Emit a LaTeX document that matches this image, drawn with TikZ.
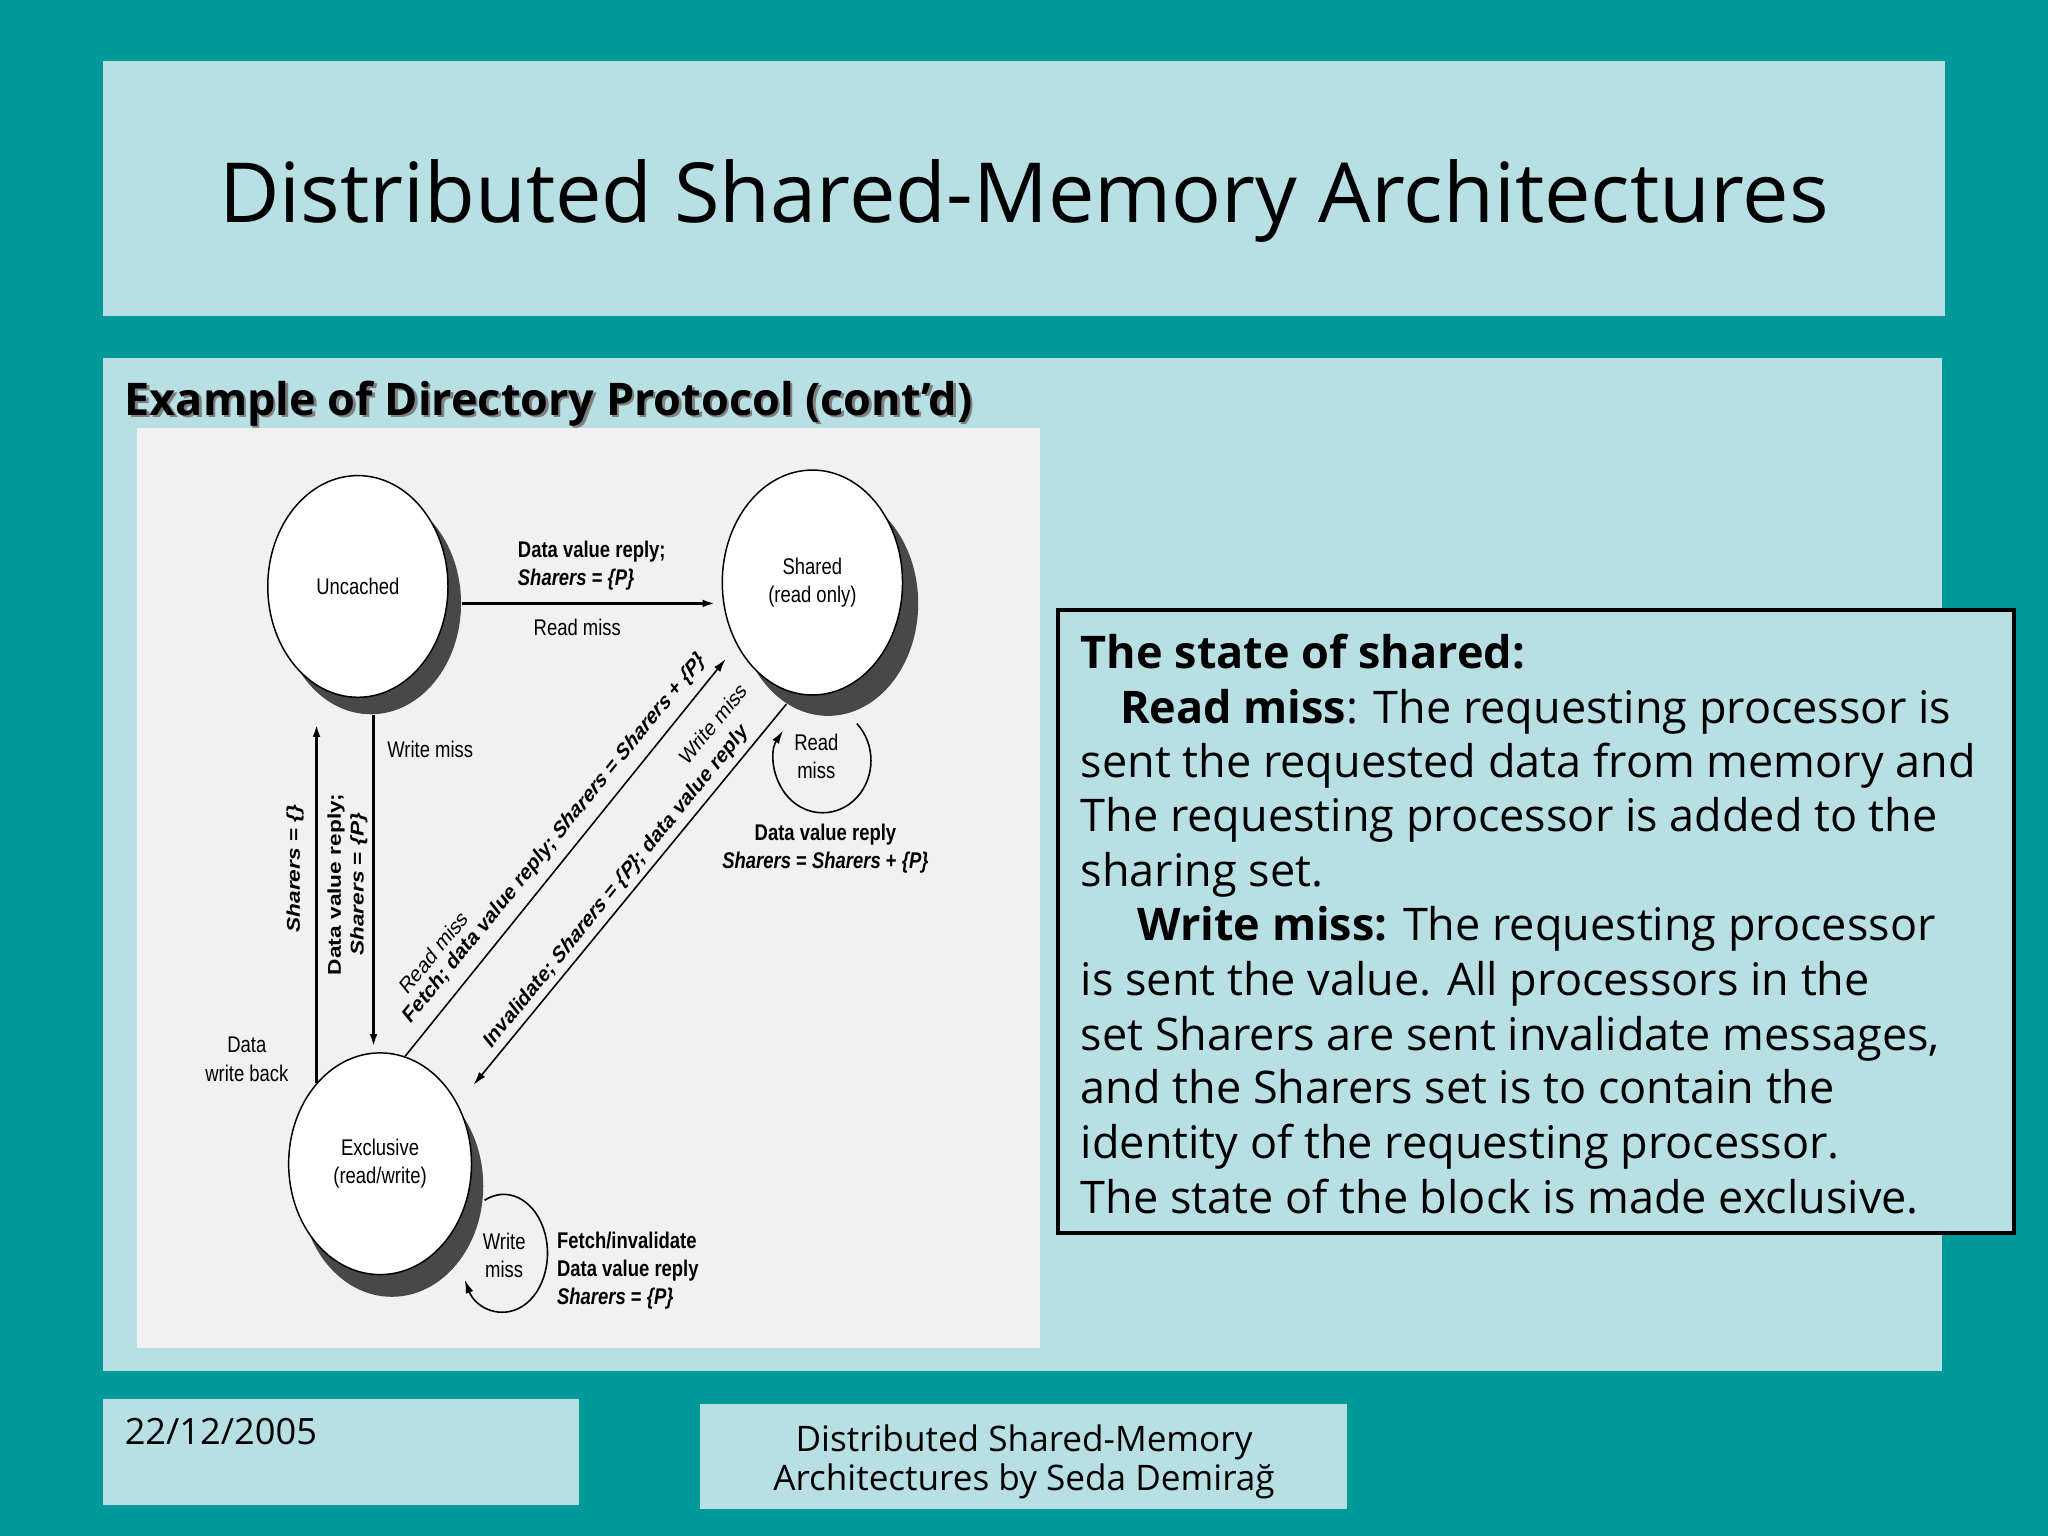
\documentclass[tikz,border=0pt]{standalone}
\usepackage{fontspec}
\setmainfont{Open Sans}
\newfontfamily\diagfam{Liberation Sans}
\usetikzlibrary{arrows.meta,shapes.geometric}
\definecolor{tealbg}{RGB}{0,153,153}
\definecolor{pale}{RGB}{184,224,228}
\definecolor{scan}{RGB}{241,241,241}
\definecolor{shade}{RGB}{72,72,72}
\newdimen\dunit
\dunit=0.01306cm
\newcommand\dfont{\diagfam\fontsize{5.25}{6.5}\selectfont}
\begin{document}
\begin{tikzpicture}[x=0.01306cm,y=-0.01306cm,
  sized/.style 2 args={minimum width=#1*\dunit, minimum height=#2*\dunit},
  statenode/.style={ellipse, draw=black, line width=0.42pt, fill=white, inner sep=0pt, font=\dfont, align=center, yscale=1.23},
  shadownode/.style={ellipse, fill=shade, inner sep=0pt, yscale=1.23},
  lab/.style={inner sep=0pt, font=\dfont, align=center, yscale=1.23},
  blab/.style={inner sep=0pt, font=\dfont\bfseries, align=center, yscale=1.23},
  thickarr/.style={line width=0.95pt, -{Latex[length=3.6pt,width=2.2pt]}},
  thinarr/.style={line width=0.45pt, -{Latex[length=3.8pt,width=2.2pt]}},
  boxtxt/.style={anchor=base west, inner sep=0pt, font=\fontsize{12.8}{14}\selectfont},
]
\useasboundingbox (0,0) rectangle (1568,1176);
\fill[tealbg] (0,0) rectangle (1568,1176);
\fill[pale] (79,47) rectangle (1489,242);
\fill[pale] (79,274) rectangle (1487,1050);
\fill[pale] (79,1071) rectangle (443,1152);
\fill[pale] (536,1075) rectangle (1031,1155);
\fill[scan] (105,328) rectangle (796,1032);

% title and subtitle
\node[anchor=base, inner sep=0pt, font=\fontsize{23.6}{28}\selectfont] (title) at (784,170) {Distributed Shared-Memory Architectures};
\node[anchor=base west, inner sep=0pt, font=\bfseries\fontsize{12.8}{15}\selectfont, text=gray] (subs) at (97,320) {Example of Directory Protocol (cont’d)};
\node[anchor=base west, inner sep=0pt, font=\bfseries\fontsize{12.8}{15}\selectfont] (sub) at (95,318) {Example of Directory Protocol (cont’d)};

% states
\node[shadownode, sized={138}{138}] (uncs) at (284,462) {};
\node[statenode, sized={138}{138}] (unc) at (274,449) {Uncached};
\node[shadownode, sized={138}{140}] (shs) at (634,462) {};
\node[statenode, sized={138}{140}] (sh) at (622,446) {Shared\\(read only)};
\node[shadownode, sized={140}{138}] (excs) at (300,908) {};
\node[statenode, sized={140}{138}] (exc) at (291,891) {Exclusive\\(read/write)};

% connectors
\draw[thickarr, shorten >=1.8pt] (uncs.east) -- (sh.west |- uncs.east);
\draw[thickarr, shorten >=1.5pt] ([xshift=2*\dunit]uncs.south) -- ([xshift=-5*\dunit]exc.north);
\draw[thickarr, shorten >=2.6pt] (exc.134) -- (exc.134 |- uncs.south);
\draw[thinarr, shorten >=5pt] (exc.74) -- (sh.214);
\draw[thinarr, shorten >=7pt] (shs.243) -- (exc.32);
\coordinate (rlA) at (656,554);
\draw[thinarr] (rlA) arc[start angle=-45, end angle=215, x radius=37, y radius=40];
\coordinate (wlA) at (371,919);
\draw[thinarr] (wlA) arc[start angle=-116, end angle=153, x radius=33.5, y radius=45];

% labels
\node[blab, anchor=west, align=left] (hl) at (396,433) {Data value reply;\\\textit{Sharers} = \textit{\{P\}}};
\node[lab] (hr) at (442,480) {Read miss};
\node[blab, rotate=90] (vl1) at (226,665) {\textit{Sharers} = \textit{\{\}}};
\node[blab, rotate=90] (vl2) at (266,677) {Data value reply;\\\textit{Sharers} = \textit{\{P\}}};
\node[lab, anchor=west] (vwm) at (296,574) {Write miss};
\node[lab] (dwb) at (189,811) {Data\\write back};
\node[lab, rotate=45] (d1a) at (332,729) {Read miss};
\node[blab, rotate=45] (d1b) at (425,642) {Fetch; data value reply; \textit{Sharers} = \textit{Sharers} + \textit{\{P\}}};
\node[lab, rotate=45] (d2a) at (546,554) {Write miss};
\node[blab, rotate=45] (d2b) at (472,679) {Invalidate; \textit{Sharers} = \textit{\{P\}}; data value reply};
\node[lab] (rm) at (625,579) {Read\\miss};
\node[blab] (rml) at (632,650) {Data value reply\\\textit{Sharers} = \textit{Sharers} + \textit{\{P\}}};
\node[lab] (wm) at (386,961) {Write\\miss};
\node[blab, anchor=west, align=left] (wml) at (426,973) {Fetch/invalidate\\Data value reply\\\textit{Sharers} = \textit{\{P\}}};

% text box
\draw[line width=1.1pt, fill=pale] (810,467) rectangle (1542,944);
\node[boxtxt] (t1) at (827,512) {\bfseries The state of shared:};
\node[boxtxt] (t2) at (857,554) {\textbf{Read miss}: The requesting processor is};
\node[boxtxt] (t3) at (827,595) {sent the requested data from memory and};
\node[boxtxt] (t4) at (827,637) {The requesting processor is added to the};
\node[boxtxt] (t5) at (827,679) {sharing set.};
\node[boxtxt] (t6) at (870,720) {\textbf{Write miss:} The requesting processor};
\node[boxtxt] (t7) at (827,762) {is sent the value. All processors in the};
\node[boxtxt] (t8) at (827,804) {set Sharers are sent invalidate messages,};
\node[boxtxt] (t9) at (827,845) {and the Sharers set is to contain the};
\node[boxtxt] (t10) at (827,887) {identity of the requesting processor.};
\node[boxtxt] (t11) at (827,929) {The state of the block is made exclusive.};

% footer
\node[anchor=base west, inner sep=0pt, font=\fontsize{10.3}{12}\selectfont] (date) at (95,1106) {22/12/2005};
\node[anchor=base, inner sep=0pt, font=\fontsize{10}{12}\selectfont] (foot1) at (784,1111) {Distributed Shared-Memory};
\node[anchor=base, inner sep=0pt, font=\fontsize{10}{12}\selectfont] (foot2) at (784,1141) {Architectures by Seda Demirağ};
\end{tikzpicture}
\end{document}
